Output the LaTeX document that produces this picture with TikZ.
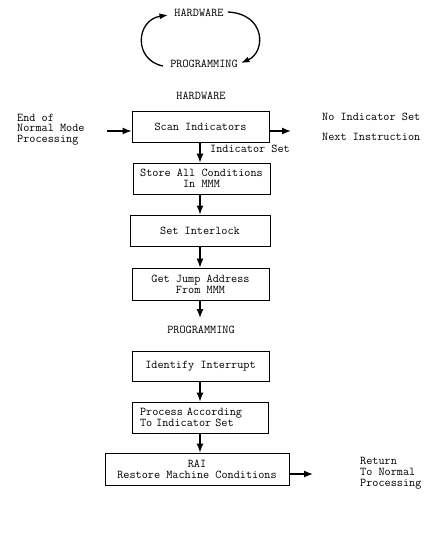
\documentclass[tikz,border=0pt]{standalone}
\usetikzlibrary{arrows.meta,calc}
\begin{document}
\begin{tikzpicture}[x=1pt,y=-1pt,
  font=\fontsize{11.9}{10.8}\selectfont\ttfamily,
  box/.style={draw,line width=0.8pt,minimum width=#1,inner sep=0pt,align=center},
  arr/.style={line width=1.3pt,-{Latex[length=9pt,width=7pt]}},
  cyc/.style={line width=1.3pt,-{Latex[length=8.5pt,width=6pt]}},
  lbl/.style={inner sep=0pt,align=left,anchor=west}]
\useasboundingbox (0,0) rectangle (425,541);
% cycle at top
\node[inner sep=0pt] (hw) at (199,13) {HARDWARE};
\node[inner sep=0pt] (pg) at (204,64) {PROGRAMMING};
\coordinate (hwL) at (168,15);
\coordinate (hwR) at (228,12);
\coordinate (pgL) at (163,66);
\coordinate (pgR) at (241,63);
\draw[cyc] (pgL) .. controls (133,60) and (136,20) .. (hwL);
\draw[cyc] (hwR) .. controls (266,14) and (266,52) .. (pgR);
% section label
\node[inner sep=0pt] (hw2) at (201,96) {HARDWARE};
% boxes
\node[box=137pt,minimum height=31pt] (scan) at (200.5,126.5) {Scan Indicators};
\node[box=137pt,minimum height=31pt] (store) at (201.5,178.5) {Store All Conditions\\In MMM};
\node[box=140pt,minimum height=31pt] (lock) at (200,230.5) {Set Interlock};
\node[box=137pt,minimum height=32pt] (jump) at (200.5,284) {Get Jump Address\\From MMM};
\node[inner sep=0pt] (prog) at (201,330) {PROGRAMMING};
\node[box=137pt,minimum height=30pt] (ident) at (200.5,366) {Identify Interrupt};
\node[box=136pt,minimum height=31pt,align=left,text width=120pt] (proc) at (200,417.5) {Process According\\To Indicator Set};
\node[box=184pt,minimum height=32pt] (rai) at (197,469) {RAI\\Restore Machine Conditions};
% side labels
\node[lbl] (endn) at (17,129.5) {End of\\Normal Mode\\Processing};
\node[lbl] (noind) at (322,117) {No Indicator Set};
\node[lbl] (next) at (322,137) {Next Instruction};
\node[lbl] (indset) at (210,149) {Indicator Set};
\node[lbl] (ret) at (360,473.5) {Return\\To Normal\\Processing};
% connectors
\coordinate (inA) at (107,131);
\coordinate (outA) at (291,131);
\coordinate (outR) at (313,474);
\coordinate (jEnd) at (200,318);
\draw[arr] (inA) -- (inA -| scan.west);
\draw[arr] (outA -| scan.east) -- (outA);
\draw[arr] (scan.south -| 200,0) -- (store.north -| 200,0);
\draw[arr] (store.south -| 200,0) -- (lock.north -| 200,0);
\draw[arr] (lock.south -| 200,0) -- (jump.north -| 200,0);
\draw[arr] (jump.south -| jEnd) -- (jEnd);
\draw[arr] (ident.south -| 200,0) -- (proc.north -| 200,0);
\draw[arr] (proc.south -| 200,0) -- (rai.north -| 200,0);
\draw[arr] (outR -| rai.east) -- (outR);
\end{tikzpicture}
\end{document}
